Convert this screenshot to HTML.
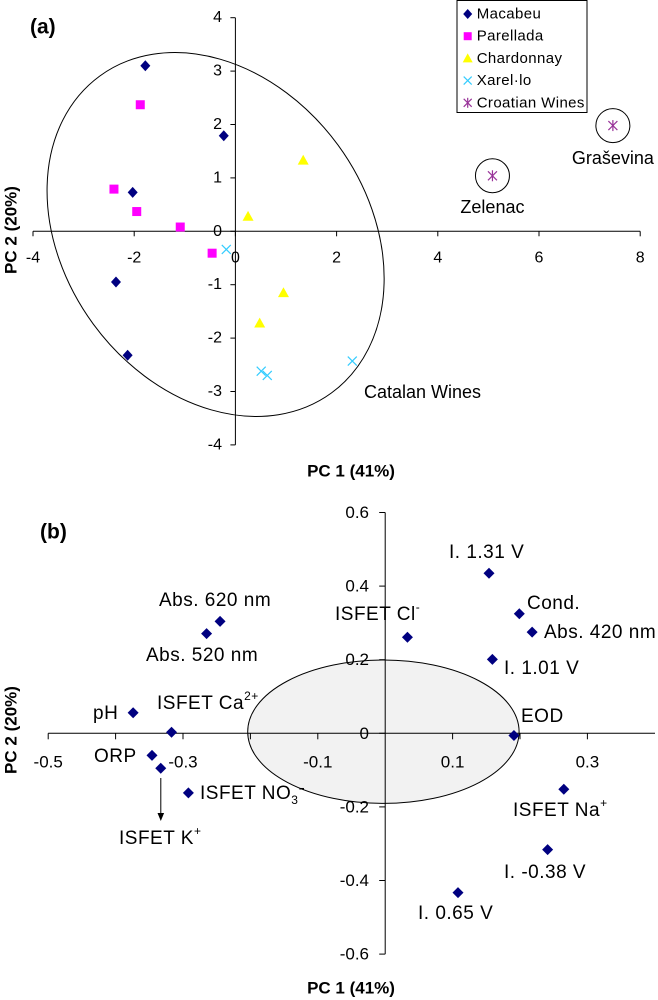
<!DOCTYPE html>
<html><head><meta charset="utf-8">
<style>
html,body{margin:0;padding:0;background:#fff;}
svg{display:block;font-family:"Liberation Sans",Arial,sans-serif;}
</style></head>
<body>
<svg id="fig" width="658" height="1000" viewBox="0 0 658 1000" xmlns="http://www.w3.org/2000/svg">
  <g id="chartA"></g>
  <g id="chartB"></g>
</svg>
<script>
// ---------- Chart (a) data ----------
const aXTicks = [-4, -2, 0, 2, 4, 6, 8];
const aYTicks = [-4, -3, -2, -1, 0, 1, 2, 3, 4];
const macabeuX = [-1.78, -0.23, -2.03, -2.36, -2.13];
const macabeuY = [3.10, 1.79, 0.73, -0.95, -2.32];
const parelladaX = [-1.88, -2.40, -1.95, -1.09, -0.46];
const parelladaY = [2.37, 0.79, 0.37, 0.08, -0.41];
const chardonnayX = [1.34, 0.25, 0.95, 0.48];
const chardonnayY = [1.33, 0.28, -1.15, -1.72];
const xarelloX = [-0.18, 0.51, 0.63, 2.31];
const xarelloY = [-0.34, -2.62, -2.70, -2.43];
const croatianX = [5.08, 7.46];
const croatianY = [1.04, 1.98];
const croatianNames = ["Zelenac", "Graševina"];
const legendNames = ["Macabeu", "Parellada", "Chardonnay", "Xarel·lo", "Croatian Wines"];

// ---------- Chart (b) data ----------
const bXTicks = [-0.5, -0.3, -0.1, 0.1, 0.3];
const bXMinor = [-0.4, -0.2, 0.2];
const bYTicks = [-0.6, -0.4, -0.2, 0, 0.2, 0.4, 0.6];
const varNames = ["pH","ISFET Ca","ORP","ISFET K","ISFET NO3","Abs. 520 nm","Abs. 620 nm","ISFET Cl","I. 1.31 V","Cond.","Abs. 420 nm","I. 1.01 V","EOD","ISFET Na","I. -0.38 V","I. 0.65 V"];
const loadX = [-0.374,-0.317,-0.346,-0.333,-0.292,-0.265,-0.245,0.033,0.154,0.199,0.218,0.159,0.191,0.265,0.241,0.108];
const loadY = [0.056,0.003,-0.060,-0.095,-0.162,0.271,0.304,0.261,0.435,0.325,0.275,0.201,-0.006,-0.152,-0.316,-0.433];

const NS = "http://www.w3.org/2000/svg";
function mk(parent, tag, attrs){
  const e = document.createElementNS(NS, tag);
  for (const k in attrs) e.setAttribute(k, attrs[k]);
  parent.appendChild(e);
  return e;
}
function txt(parent, x, y, s, size, anchor, extra){
  const t = mk(parent, "text", {x:x, y:y, "font-size":size, "text-anchor":anchor||"start", "dominant-baseline":"central", fill:"#000"});
  if (extra) for (const k in extra) t.setAttribute(k, extra[k]);
  t.textContent = s;
  return t;
}

// ===== Chart A =====
const A = document.getElementById("chartA");
const ax = v => 235.4 + v * 50.6;
const ay = v => 231.3 - v * 53.4;

let e;
e = mk(A, "line", {x1:ax(-4), y1:ay(0), x2:ax(8), y2:ay(0), stroke:"#000", "stroke-width":1});
 
e = mk(A, "line", {x1:ax(0), y1:ay(4), x2:ax(0), y2:ay(-4), stroke:"#000", "stroke-width":1});
 
aXTicks.forEach(v => {
  const t = mk(A, "line", {x1:ax(v), y1:ay(0), x2:ax(v), y2:ay(0)+5, stroke:"#000"});
   
  const l = txt(A, ax(v), 258, String(v), 16, "middle");
   
});
aYTicks.forEach(v => {
  const t = mk(A, "line", {x1:ax(0)-5, y1:ay(v), x2:ax(0), y2:ay(v), stroke:"#000"});
   
  const l = txt(A, 222, ay(v), String(v), 16, "end");
   
});
e = mk(A, "ellipse", {cx:215.6, cy:234.5, rx:151.6, ry:196.3, transform:"rotate(-36.2 215.6 234.5)", fill:"none", stroke:"#000", "stroke-width":1});
 

function diamond(g, x, y, w, h, fill){
  return mk(g, "polygon", {points:`${x},${y-h} ${x+w},${y} ${x},${y+h} ${x-w},${y}`, fill:fill});
}
function square(g, x, y, s, fill){ return mk(g, "rect", {x:x-s, y:y-s, width:2*s, height:2*s, fill:fill}); }
function tri(g, x, y, s, fill){ return mk(g, "polygon", {points:`${x},${y-s} ${x+s},${y+s*0.8} ${x-s},${y+s*0.8}`, fill:fill}); }
function cross(g, x, y, s, col){
  const gg = mk(g, "g", {stroke:col, "stroke-width":1.2});
  mk(gg, "line", {x1:x-s, y1:y-s, x2:x+s, y2:y+s});
  mk(gg, "line", {x1:x-s, y1:y+s, x2:x+s, y2:y-s});
  return gg;
}
function star(g, x, y, s, col){
  const gg = cross(g, x, y, s, col);
  mk(gg, "line", {x1:x, y1:y-s-1, x2:x, y2:y+s+1});
  return gg;
}

macabeuX.forEach((v,i) => { const m = diamond(A, ax(v), ay(macabeuY[i]), 5, 5.5, "#000080");
    });
parelladaX.forEach((v,i) => { const m = square(A, ax(v), ay(parelladaY[i]), 4.5, "#ff00ff");
    });
chardonnayX.forEach((v,i) => { const m = tri(A, ax(v), ay(chardonnayY[i]), 5.5, "#ffff00");
    });
xarelloX.forEach((v,i) => { const m = cross(A, ax(v), ay(xarelloY[i]), 4.5, "#33ccff");
    });
croatianX.forEach((v,i) => {
  const c = mk(A, "circle", {cx:ax(v), cy:ay(croatianY[i]), r:17, fill:"none", stroke:"#000"});
   
  const m = star(A, ax(v), ay(croatianY[i]), 4.5, "#993399");
   
});
let l;
l = txt(A, ax(croatianX[0]), 207, croatianNames[0], 18, "middle");
 
l = txt(A, ax(croatianX[1]), 158, croatianNames[1], 18, "middle");
 
l = txt(A, 364, 392, "Catalan Wines", 18, "start");
 
l = txt(A, 30, 27, "(a)", 21, "start", {"font-weight":"bold"});
 
l = txt(A, 0, 0, "PC 2 (20%)", 17, "middle", {"font-weight":"bold", transform:"translate(11,230) rotate(-90)"});
 
l = txt(A, 351, 471, "PC 1 (41%)", 17, "middle", {"font-weight":"bold"});
 

const LG = mk(A, "g", {});
 
e = mk(LG, "rect", {x:457, y:0.5, width:130, height:112, fill:"#fff", stroke:"#000"});
 
legendNames.forEach((n,i) => {
  const y = 14 + i * 22.2, x = 467.7;
  let m;
  if (i===0) m = diamond(LG, x, y, 4.5, 5, "#000080");
  else if (i===1) m = square(LG, x, y, 4, "#ff00ff");
  else if (i===2) m = tri(LG, x, y, 5, "#ffff00");
  else if (i===3) m = cross(LG, x, y, 4, "#33ccff");
  else m = star(LG, x, y, 4, "#993399");
   
  const t = txt(LG, 476.7, y, n, 15, "start", {"letter-spacing":"0.4"});
   
});

// ===== Chart B =====
const B = document.getElementById("chartB");
const bx = v => 385.2 + v * 674;
const by = v => 733.3 - v * 368;

e = mk(B, "ellipse", {cx:383.4, cy:731.7, rx:135.7, ry:71.7, fill:"#f2f2f2", stroke:"#000", "stroke-width":1});
 
e = mk(B, "line", {x1:bx(-0.5), y1:by(0), x2:655, y2:by(0), stroke:"#000"});
 
e = mk(B, "line", {x1:bx(0), y1:by(0.6), x2:bx(0), y2:by(-0.6), stroke:"#000"});
 
bXTicks.concat(bXMinor).forEach(v => {
  const t = mk(B, "line", {x1:bx(v), y1:by(0), x2:bx(v), y2:by(0)+6, stroke:"#000"});
   
});
bXTicks.forEach(v => {
  const t = txt(B, bx(v), 762, String(v), 17, "middle");
   
});
bYTicks.forEach(v => {
  const t = mk(B, "line", {x1:bx(0)-6, y1:by(v), x2:bx(0), y2:by(v), stroke:"#000"});
   
  const lb = txt(B, 369, by(v), String(v), 17, "end");
   
});
loadX.forEach((v,i) => {
  const m = diamond(B, bx(v), by(loadY[i]), 5.5, 5.5, "#000080");
   
});
e = mk(B, "line", {x1:160.8, y1:778, x2:160.8, y2:816, stroke:"#000"});
 
e = mk(B, "polygon", {points:"157.5,813 164.1,813 160.8,821", fill:"#000"});
 

function rich(g, x, y, parts, anchor){
  const t = mk(g, "text", {x:x, y:y, "font-size":19, "text-anchor":anchor||"start", "dominant-baseline":"central", fill:"#000", "letter-spacing":"0.5"});
  parts.forEach(p => {
    const s = mk(t, "tspan", {});
    if (p[1]==="sup") { s.setAttribute("font-size", 12); s.setAttribute("dy", -7); }
    if (p[1]==="sub") { s.setAttribute("font-size", 12); s.setAttribute("dy", 7); }
    if (p[1]==="back") { s.setAttribute("dy", p[2]); }
    s.textContent = p[0];
  });
  return t;
}
const labs = [
  [449, 552, [["I. 1.31 V"]], "label-i-131v"],
  [527, 603, [["Cond."]], "label-cond"],
  [544, 632, [["Abs. 420 nm"]], "label-abs-420"],
  [335, 614, [["ISFET Cl"],["-","sup"]], "label-isfet-cl"],
  [504, 668, [["I. 1.01 V"]], "label-i-101v"],
  [521, 716, [["EOD"]], "label-eod"],
  [159, 600, [["Abs. 620 nm"]], "label-abs-620"],
  [146, 655, [["Abs. 520 nm"]], "label-abs-520"],
  [93, 713, [["pH"]], "label-ph"],
  [157, 703, [["ISFET Ca"],["2+","sup"]], "label-isfet-ca"],
  [94, 756, [["ORP"]], "label-orp"],
  [200, 793, [["ISFET NO"],["3","sub"],["-","back",-12]], "label-isfet-no3"],
  [119, 838, [["ISFET K"],["+","sup"]], "label-isfet-k"],
  [513, 810, [["ISFET Na"],["+","sup"]], "label-isfet-na"],
  [504, 872, [["I. -0.38 V"]], "label-i-neg038v"],
  [418, 913, [["I. 0.65 V"]], "label-i-065v"]
];
labs.forEach(a => {
  const t = rich(B, a[0], a[1], a[2]);
  
  
});
l = txt(B, 40, 532, "(b)", 21, "start", {"font-weight":"bold"});
 
l = txt(B, 0, 0, "PC 2 (20%)", 17, "middle", {"font-weight":"bold", transform:"translate(11,730) rotate(-90)"});
 
l = txt(B, 351, 988, "PC 1 (41%)", 17, "middle", {"font-weight":"bold"});
 
</script>
</body></html>
